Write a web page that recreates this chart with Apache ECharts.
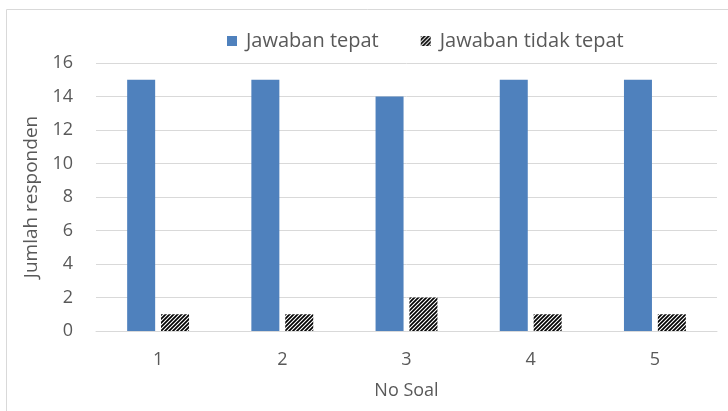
<!DOCTYPE html>
<html>
<head>
<meta charset="utf-8">
<script src="https://cdn.jsdelivr.net/npm/echarts@6/dist/echarts.min.js"></script>
<style>
  html, body { margin: 0; padding: 0; background: #fff; }
  #chart { width: 728px; height: 411px; }
</style>
</head>
<body>
<div id="chart"></div>
<script>
// data
const categories = ['1', '2', '3', '4', '5'];
const tepat = [15, 15, 14, 15, 15];
const tidakTepat = [1, 1, 2, 1, 1];
const seriesNames = ['Jawaban tepat', 'Jawaban tidak tepat'];

// diagonal hatch for the second series
function makeHatch() {
    const c = document.createElement('canvas');
    c.width = 4;
    c.height = 4;
    const ctx = c.getContext('2d');
    ctx.fillStyle = '#fff';
    ctx.fillRect(0, 0, 4, 4);
    ctx.strokeStyle = '#000';
    ctx.lineWidth = 1.7;
    ctx.beginPath();
    ctx.moveTo(0, 4); ctx.lineTo(4, 0);
    ctx.moveTo(-1, 1); ctx.lineTo(1, -1);
    ctx.moveTo(3, 5); ctx.lineTo(5, 3);
    ctx.stroke();
    return c;
}
const hatch = { image: makeHatch(), repeat: 'repeat' };

const textColor = '#595959';
const fontFamily = '"Open Sans", sans-serif';

const chart = echarts.init(document.getElementById('chart'));
chart.setOption({
    animation: false,
    textStyle: { fontFamily: fontFamily },
    graphic: [{
        type: 'rect',
        shape: { x: 6.5, y: 9.5, width: 800, height: 600 },
        style: { fill: 'none', stroke: '#d9d9d9', lineWidth: 1 },
        silent: true
    }],
    legend: {
        top: 26,
        left: 222,
        icon: 'rect',
        itemWidth: 10,
        itemHeight: 10,
        itemGap: 42,
        textStyle: { color: textColor, fontSize: 20, fontFamily: fontFamily, padding: [0, 0, 0, 4] },
        data: seriesNames
    },
    grid: { left: 96, right: 11, top: 63, bottom: 80 },
    xAxis: {
        type: 'category',
        data: categories,
        name: 'No Soal',
        nameLocation: 'middle',
        nameGap: 51,
        nameTextStyle: { color: textColor, fontSize: 18 },
        axisLine: { lineStyle: { color: '#d9d9d9' } },
        axisTick: { show: false },
        axisLabel: { color: textColor, fontSize: 18, margin: 20 }
    },
    yAxis: {
        type: 'value',
        min: 0,
        max: 16,
        interval: 2,
        name: 'Jumlah responden',
        nameLocation: 'middle',
        nameGap: 50,
        nameTextStyle: { color: textColor, fontSize: 19 },
        axisLine: { show: false },
        axisTick: { show: false },
        axisLabel: { color: textColor, fontSize: 18, margin: 23 },
        splitLine: { lineStyle: { color: '#d9d9d9' } }
    },
    series: [{
        name: seriesNames[0],
        type: 'bar',
        data: tepat,
        barWidth: 28,
        barGap: '21%',
        itemStyle: { color: '#4F81BD' }
    }, {
        name: seriesNames[1],
        type: 'bar',
        data: tidakTepat,
        barWidth: 28,
        itemStyle: { color: hatch }
    }]
});
</script>
</body>
</html>
